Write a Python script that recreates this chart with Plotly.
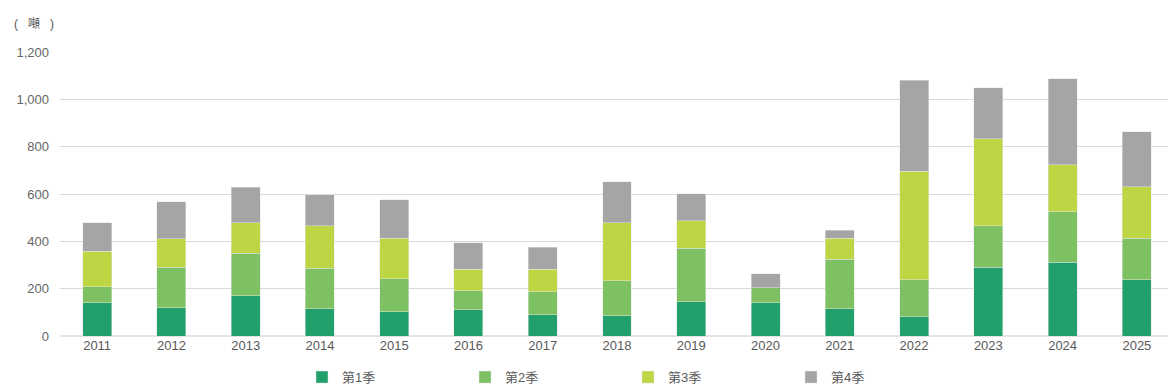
import plotly.graph_objects as go

years = ["2011", "2012", "2013", "2014", "2015", "2016", "2017", "2018",
         "2019", "2020", "2021", "2022", "2023", "2024", "2025"]
q1 = [141, 120, 170, 115, 103, 111, 90, 86, 145, 141, 116, 82, 290, 311, 238]
q2 = [67, 170, 179, 171, 139, 81, 97, 148, 225, 63, 208, 156, 176, 213, 176]
q3 = [150, 120, 129, 180, 172, 90, 95, 244, 116, 0, 89, 458, 367, 200, 217]
q4 = [120, 158, 150, 131, 162, 111, 94, 174, 116, 59, 34, 385, 217, 364, 232]
series_names = ["第1季", "第2季", "第3季", "第4季"]
colors = ["#21a06c", "#7dc163", "#bed644", "#a5a5a5"]
y_ticks = [0, 200, 400, 600, 800, 1000, 1200]
y_tick_text = ["0", "200", "400", "600", "800", "1,000", "1,200"]

font_family = "Liberation Sans, Arial, Noto Sans CJK TC, sans-serif"

fig = go.Figure()
for name, vals, col in zip(series_names, [q1, q2, q3, q4], colors):
    fig.add_trace(go.Bar(
        x=years, y=vals, name=name,
        marker=dict(color=col, line=dict(color="rgba(230,230,230,0.8)", width=0.6)),
        hovertemplate="%{x} " + name + ": %{y}<extra></extra>",
    ))

fig.update_layout(
    barmode="stack",
    bargap=0.61,
    width=1176, height=392,
    margin=dict(l=52, r=10, t=44, b=64, autoexpand=False),
    paper_bgcolor="white",
    plot_bgcolor="white",
    font=dict(family=font_family, size=12, color="#595959"),
    xaxis=dict(
        type="category",
        showgrid=False,
        showline=False,
        ticks="",
        tickfont=dict(size=13, color="#595959"),
        automargin=False,
    ),
    yaxis=dict(
        range=[0, 1200],
        tickvals=y_ticks,
        ticktext=y_tick_text,
        showgrid=True,
        gridcolor="#d9d9d9",
        gridwidth=1,
        zeroline=True,
        zerolinecolor="#e3e3e3",
        zerolinewidth=2,
        tickfont=dict(size=13, color="#666666"),
        ticklabelstandoff=10,
        automargin=False,
    ),
    legend=dict(
        orientation="h",
        xref="container", yref="container",
        x=0.25, xanchor="left",
        y=0.02, yanchor="bottom",
        entrywidth=118,
        itemwidth=30,
        font=dict(size=13, color="#595959"),
        traceorder="normal",
    ),
    showlegend=True,
    annotations=[
        dict(text="(   噸   )", xref="paper", yref="paper", x=-0.043, y=1.0,
             xanchor="left", yanchor="bottom", yshift=19, showarrow=False,
             font=dict(size=12, color="#595959")),
    ],
)

fig.write_html("out.html")
